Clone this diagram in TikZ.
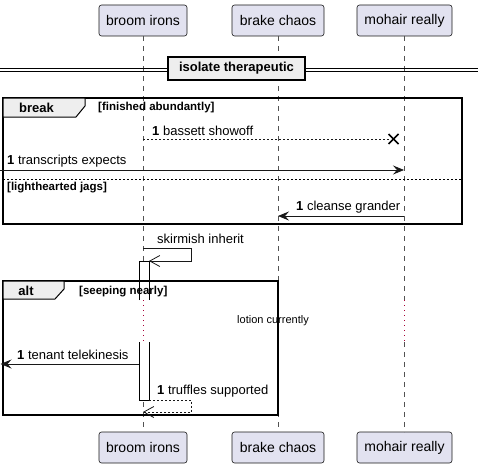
\documentclass[tikz,border=0pt]{standalone}
\usepackage{fontspec}
\setmainfont{Liberation Sans}
\usetikzlibrary{arrows.meta}
\definecolor{partfill}{HTML}{E2E2F0}
\definecolor{lineclr}{HTML}{181818}
\definecolor{tabfill}{HTML}{EEEEEE}
\definecolor{delayclr}{HTML}{A80036}
\tikzset{
  part/.style={draw=lineclr, fill=partfill, rounded corners=2.5pt, line width=0.6pt,
    font=\fontsize{14}{16}\selectfont, minimum height=31pt, inner sep=0pt},
  life/.style={draw=lineclr!75, line width=0.5pt, dash pattern=on 5pt off 5pt},
  delayline/.style={draw=delayclr, line width=1pt, dash pattern=on 1pt off 4pt},
  msg/.style={draw=lineclr, line width=0.8pt},
  retmsg/.style={draw=lineclr, line width=0.8pt, dash pattern=on 2pt off 2pt},
  solidtip/.style={-{Stealth[length=11pt,width=9pt,inset=4pt]}},
  opentip/.style={-{Straight Barb[length=10pt,width=11pt,line width=0.8pt]}},
  msgtxt/.style={font=\fontsize{13}{15}\selectfont, inner sep=0pt, anchor=west},
  frameline/.style={draw=black, line width=1.5pt},
  tabshape/.style={draw=black, fill=tabfill, line width=1pt},
  tabtxt/.style={font=\bfseries\fontsize{13}{15}\selectfont, inner sep=0pt},
  guard/.style={font=\bfseries\fontsize{11.5}{13}\selectfont, inner sep=0pt, anchor=west},
  actbar/.style={draw=black, fill=white, line width=0.8pt},
}
\begin{document}
\begin{tikzpicture}[x=1pt,y=-1pt]
\useasboundingbox (0,0) rectangle (478,468);
% participants
\node[part, minimum width=88pt] (bT) at (143,20.5) {broom irons};
\node[part, minimum width=92pt] (cT) at (278,20.5) {brake chaos};
\node[part, minimum width=95pt] (mT) at (404.5,20.5) {mohair really};
\node[part, minimum width=88pt] (bB) at (143,447.5) {broom irons};
\node[part, minimum width=92pt] (cB) at (278,447.5) {brake chaos};
\node[part, minimum width=95pt] (mB) at (404.5,447.5) {mohair really};
% lifeline coordinates
\coordinate (bD1) at (143,300); \coordinate (bD2) at (143,342);
\coordinate (cD1) at (278,300); \coordinate (cD2) at (278,342);
\coordinate (mD1) at (404,300); \coordinate (mD2) at (404,342);
\coordinate (mTs) at (404,36); \coordinate (mBn) at (404,432);
\draw[life] (bT.south) -- (bD1);
\draw[delayline] (bD1) -- (bD2);
\draw[life] (bD2) -- (bB.north);
\draw[life] (cT.south) -- (cD1);
\draw[life] (cD2) -- (cB.north);
\draw[life] (mTs) -- (mD1);
\draw[delayline] (mD1) -- (mD2);
\draw[life] (mD2) -- (mBn);
% divider
\coordinate (dvL1) at (0,68.5); \coordinate (dvR1) at (478,68.5);
\coordinate (dvL2) at (0,71.5); \coordinate (dvR2) at (478,71.5);
\draw[black, line width=1pt] (dvL1) -- (dvR1);
\draw[black, line width=1pt] (dvL2) -- (dvR2);
\node[draw=black, fill=tabfill, line width=1.5pt, minimum width=137pt, minimum height=23pt,
  inner sep=0pt, font=\bfseries\fontsize{13}{15}\selectfont] (div) at (236.5,68.5) {isolate therapeutic};
% break frame
\draw[frameline] (3,98) rectangle (462,224);
\draw[tabshape] (3,98) -- (85,98) -- (85,106) -- (76,117) -- (3,117) -- cycle;
\node[tabtxt] (brk) at (36.5,107.5) {break};
\node[guard] (g1) at (98,108) {[finished abundantly]};
\draw[draw=black, line width=0.8pt, dash pattern=on 2pt off 2pt] (3,179) -- (462,179);
\node[guard] (g2) at (7,187.5) {[lighthearted jags]};
% bassett showoff (destroy)
\coordinate (bs1) at (143,139); \coordinate (bs2) at (389,139);
\coordinate (xa) at (388.5,134); \coordinate (xb) at (398.5,144);
\coordinate (xc) at (388.5,144); \coordinate (xd) at (398.5,134);
\draw[retmsg] (bs1) -- (bs2);
\draw[black, line width=1.6pt] (xa) -- (xb);
\draw[black, line width=1.6pt] (xc) -- (xd);
\node[msgtxt] (t1) at (152,131) {\textbf{1} bassett showoff};
% transcripts expects
\coordinate (te1) at (0,170); \coordinate (te2) at (404,170);
\draw[msg, solidtip] (te1) -- (te2);
\node[msgtxt] (t2) at (7,161) {\textbf{1} transcripts expects};
% cleanse grander
\coordinate (cg1) at (404,216); \coordinate (cg2) at (278,216);
\draw[msg, solidtip] (cg1) -- (cg2);
\node[msgtxt] (t3) at (296,207) {\textbf{1} cleanse grander};
% activation
\draw[actbar] (139,300) -- (139,261) -- (149,261) -- (149,300);
\draw[actbar] (139,342) -- (139,400) -- (149,400) -- (149,342);
% skirmish inherit
\coordinate (sk1) at (143,248); \coordinate (sk2) at (191.5,248);
\coordinate (sk3) at (191.5,261); \coordinate (sk4) at (149,261);
\draw[msg, opentip] (sk1) -- (sk2) -- (sk3) -- (sk4);
\node[msgtxt] (t4) at (157,239) {skirmish inherit};
% alt frame
\draw[frameline] (3,281) rectangle (278,415);
\draw[tabshape] (3,281) -- (64,281) -- (64,289) -- (55,299) -- (3,299) -- cycle;
\node[tabtxt] (alt) at (26,290.5) {alt};
\node[guard] (g3) at (79,292) {[seeping nearly]};
\node[font=\fontsize{11}{13}\selectfont, inner sep=0pt] (delay) at (273,321) {lotion currently};
% tenant telekinesis
\coordinate (tt1) at (139,364); \coordinate (tt2) at (0.5,364);
\draw[msg, solidtip] (tt1) -- (tt2);
\node[msgtxt] (t5) at (17,354.5) {\textbf{1} tenant telekinesis};
% truffles supported
\coordinate (ts1) at (149,400); \coordinate (ts2) at (191.5,400);
\coordinate (ts3) at (191.5,412); \coordinate (ts4) at (143,412);
\draw[retmsg, opentip] (ts1) -- (ts2) -- (ts3) -- (ts4);
\node[msgtxt] (t6) at (157,391) {\textbf{1} truffles supported};
\end{tikzpicture}
\end{document}
